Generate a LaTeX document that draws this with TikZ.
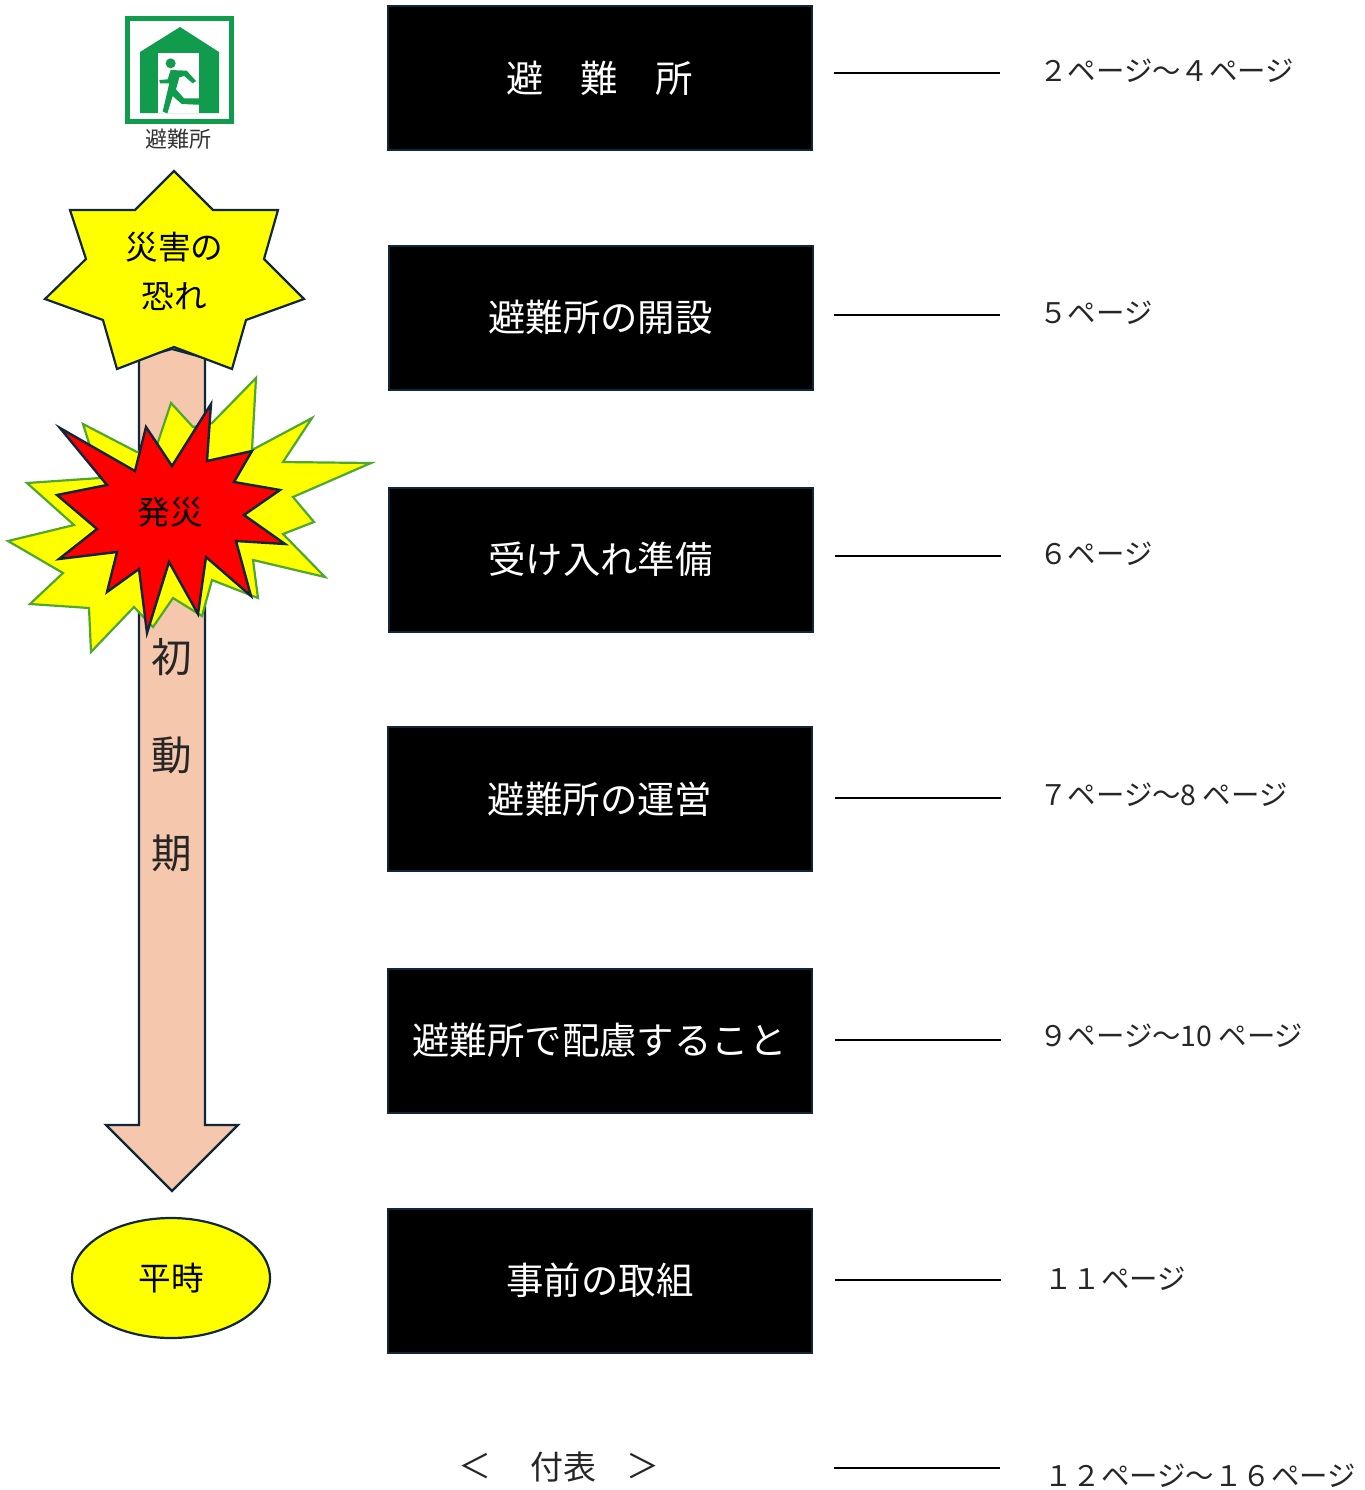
\documentclass[tikz,border=0pt]{standalone}
\usepackage{fontspec}
\usetikzlibrary{shapes.geometric}
\setmainfont{Noto Sans CJK JP}
\definecolor{navy}{HTML}{10263B}
\definecolor{peach}{HTML}{F5C7AC}
\definecolor{leaf}{HTML}{4EA72E}
\definecolor{signgreen}{HTML}{119B4C}
\definecolor{pureyellow}{HTML}{FFFF00}
\tikzset{
  blackbox/.style={draw=navy,line width=1pt,fill=black,text=white,minimum width=212pt,minimum height=72pt,inner sep=0pt,font=\fontsize{18.7}{22}\selectfont},
  pagetext/.style={anchor=west,inner sep=0pt,text=black!85,font=\fontsize{14.2}{16}\selectfont},
  rule/.style={line width=1pt,black},
  shapeedge/.style={draw=navy,line width=1.1pt,line join=miter},
  burstouter/.style={draw=leaf,line width=1.1pt,fill=pureyellow,line join=miter},
  burstinner/.style={draw=navy,line width=1.2pt,fill=red,line join=miter},
  caption/.style={inner sep=0pt,font=\fontsize{16.3}{24.5}\selectfont,align=center},
  kanji/.style={inner sep=0pt,text=black!85,font=\fontsize{20.3}{24}\selectfont},
  appendix/.style={inner sep=0pt,text=black!85,font=\fontsize{16.5}{20}\selectfont}
}
\begin{document}
\begin{tikzpicture}[x=0.5pt,y=-0.5pt]
\useasboundingbox (0,0) rectangle (1365,1490);
% shelter sign
\draw[signgreen,line width=2.5pt] (127.5,18.5) rectangle (231.5,121.5);
\fill[signgreen] (140,52) -- (180,27) -- (219,52) -- (219,113) -- (140,113) -- cycle;
\fill[white] (158,53) rectangle (199,113);
\begin{scope}[x=0.16667pt,y=-0.16667pt]
\fill[signgreen] (512,190) circle (15);
\fill[signgreen] (478,240) -- (503,238) -- (512,210) -- (560,212) -- (588,243) -- (578,250) -- (553,228) -- (538,232) -- (528,268) -- (552,295) -- (600,295) -- (615,315) -- (545,312) -- (518,288) -- (502,340) -- (488,335) -- (505,262) -- (508,250) -- (480,250) -- cycle;
\end{scope}
\node[inner sep=0pt,text=black!80,font=\fontsize{11}{13}\selectfont] (signlabel) at (178,139) {避難所};
% arrow
\draw[shapeedge,fill=peach] (139,358) -- (172,349) -- (205,358) -- (205,1125) -- (238,1125) -- (172,1191) -- (106,1125) -- (139,1125) -- cycle;
\node[kanji] (k1) at (172,657) {初};
\node[kanji] (k2) at (172,755) {動};
\node[kanji] (k3) at (172,853) {期};
% star
\draw[shapeedge,fill=pureyellow] (174,171) -- (213,210) -- (278,210) -- (264,259) -- (304,299) -- (246,320) -- (232,369) -- (174,347) -- (117,369) -- (103,320) -- (45,299) -- (86,259) -- (70,210) -- (135,210) -- cycle;
\node[caption] (fear) at (174.5,271) {災害の\\恐れ};
% bursts
\draw[burstouter] (256,378) -- (252,450) -- (312,418) -- (283,462) -- (371,463) -- (293,497) -- (314,522) -- (283,534) -- (325,577) -- (253,560) -- (258,598) -- (212,580) -- (202,616) -- (173,598) -- (153,627) -- (134,607) -- (91,652) -- (89,608) -- (30,604) -- (63,573) -- (8,541) -- (74,525) -- (27,483) -- (100,478) -- (83,424) -- (137,452) -- (157,445) -- (171,403) -- (193,427) -- (212,423) -- cycle;
\draw[burstinner] (60,428) -- (135,471) -- (146,427) -- (172,466) -- (211,404) -- (207,461) -- (252,451) -- (234,482) -- (280,490) -- (244,515) -- (285,544) -- (236,541) -- (251,596) -- (206,557) -- (198,614) -- (169,562) -- (147,633) -- (139,569) -- (107,592) -- (117,552) -- (59,559) -- (97,529) -- (57,495) -- (107,485) -- cycle;
\node[caption] (quake) at (170,512) {発災};
% ellipse
\node[draw=navy,line width=1.1pt,fill=pureyellow,ellipse,minimum width=99pt,minimum height=60pt,inner sep=0pt,font=\fontsize{16.3}{20}\selectfont] (peace) at (171,1278) {平時};
% boxes
\node[blackbox] (b1) at (599.5,78) {避　難　所};
\node[blackbox] (b2) at (600.5,317.5) {避難所の開設};
\node[blackbox] (b3) at (600.5,559.5) {受け入れ準備};
\node[blackbox] (b4) at (600,799) {避難所の運営};
\node[blackbox] (b5) at (599.5,1040.5) {避難所で配慮すること};
\node[blackbox] (b6) at (600,1280.5) {事前の取組};
\node[appendix] (a1) at (475,1466) {＜};
\node[appendix] (a2) at (563,1467) {付表};
\node[appendix] (a3) at (643,1466) {＞};
% rules
\foreach \n/\xa/\xb/\yy in {1/834/1000/73,2/834/1000/315,3/835/1001/556,4/835/1001/798,5/835/1001/1040,6/835/1001/1280,7/834/1000/1468}{
  \coordinate (ra\n) at (\xa,\yy);
  \coordinate (rb\n) at (\xb,\yy);
  \draw[rule] (ra\n) -- (rb\n);
}
% page labels
\node[pagetext] (p1) at (1039,71) {２ページ～４ページ};
\node[pagetext] (p2) at (1039,313) {５ページ};
\node[pagetext] (p3) at (1039,554) {６ページ};
\node[pagetext] (p4) at (1039,795) {７ページ～8 ページ};
\node[pagetext] (p5) at (1039,1036) {９ページ～10 ページ};
\node[pagetext] (p6) at (1044,1279) {１１ページ};
\node[pagetext] (p7) at (1044,1476) {１２ページ～１６ページ};
\end{tikzpicture}
\end{document}
